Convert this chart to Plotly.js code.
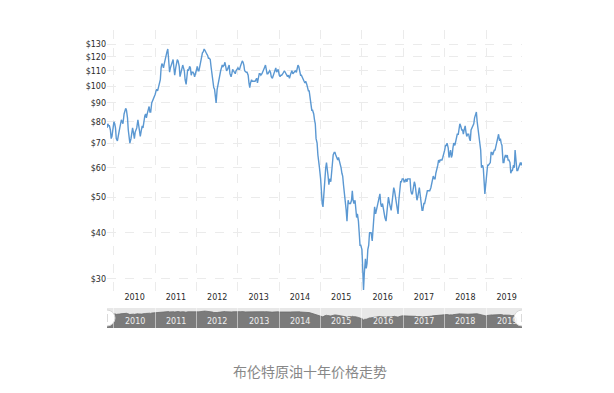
<!DOCTYPE html>
<html><head><meta charset="utf-8">
<script src="https://cdn.plot.ly/plotly-3.0.1.min.js"></script>
<style>html,body{margin:0;padding:0;background:#fff;}#chart{width:614px;height:393px;}</style>
</head><body><div id="chart"></div>
<script>
// Brent crude, roughly weekly readings (4 per month: days 1, 8, 15, 22)
const weekDays = [1, 8, 15, 22];
const years = [2009, 2010, 2011, 2012, 2013, 2014, 2015, 2016, 2017, 2018, 2019];
const labelYears = [2010, 2011, 2012, 2013, 2014, 2015, 2016, 2017, 2018, 2019];
const startMonth = {2009: 11};
const brent2009 = [77,79,78,78, 76,72,73,77];
const brent2010 = [80,79,77,72, 71,73,76,77, 79,81,80,79, 84,85,87,86, 82,76,72,70, 72,75,77,75,
                   72,75,76,77, 81,78,75,73, 76,78,77,80, 83,84,82,84, 86,88,85,85, 90,91,92,94];
const brent2011 = [95,97,98,97, 100,102,104,112, 115,114,112,115, 120,122,124,126, 115,109,112,114, 115,118,112,107,
                   112,117,118,117, 113,106,108,111, 114,112,110,104, 101,106,111,110, 113,112,107,109, 109,108,106,108];
const brent2012 = [112,113,110,110, 114,118,120,123, 124,126,125,123, 122,121,119,119, 118,113,108,106, 99,98,92,90,
                   98,101,104,106, 110,112,114,113, 114,116,112,110, 111,112,114,108, 106,108,111,110, 109,108,110,111];
const brent2013 = [112,111,111,113, 115,117,116,114, 110,109,109,109, 107,102,99,102, 104,103,103,103, 103,104,105,102,
                   107,108,108,107, 108,109,111,112, 114,111,108,108, 109,110,109,106, 105,107,108,111, 112,109,110,111];
const brent2014 = [107,106,107,107, 108,109,110,109, 108,106,106,107, 105,107,109,110, 108,109,110,110, 109,111,114,113,
                   110,107,107,106, 105,103,102,103, 101,98,97,97, 93,89,86,86, 84,81,79,72, 70,65,61,60];
const brent2015 = [56,49,48,47, 54,58,60,62, 60,57,54,56, 55,58,62,65, 66,66,65,64, 63,64,63,62,
                   60,58,57,54, 51,49,46,43, 49,48,48,48, 49,52,49,48, 49,46,44,45, 43,40,37,37];
const brent2016 = [36,32,28,31, 34,32,33,36, 37,40,40,40, 38,42,44,47, 45,46,48,49, 50,51,48,47,
                   48,46,45,44, 43,45,49,50, 48,47,46,48, 51,53,52,50, 47,46,45,49, 54,55,55,56];
const brent2017 = [56,55,55,56, 55,56,56,56, 56,52,51,51, 53,55,54,52, 49,50,52,53, 50,48,46,46,
                   48,48,49,51, 52,52,52,52, 53,54,56,57, 56,56,58,60, 61,63,62,63, 63,63,64,66];
const brent2018 = [67,69,69,70, 68,64,65,67, 64,65,68,70, 69,71,73,74, 74,77,79,78, 76,76,74,76,
                   78,75,73,74, 74,72,71,76, 77,78,79,82, 84,85,80,77, 73,70,67,60, 61,60,55,51];
const brent2019 = [55,59,61,61, 62,62,66,66, 65,66,67,67, 69,71,72,74, 71,72,70,69, 62,62,64,65,
                   64,65,63,63, 62,58,59,59, 61,60,67,63, 59,59,60,61, 62,61,62];
const brentByYear = {2009: brent2009, 2010: brent2010, 2011: brent2011, 2012: brent2012, 2013: brent2013,
  2014: brent2014, 2015: brent2015, 2016: brent2016, 2017: brent2017, 2018: brent2018, 2019: brent2019};

const yTickVals = [30, 40, 50, 60, 70, 80, 90, 100, 110, 120, 130];
const yTickText = yTickVals.map(v => '$' + v);
const caption = '布伦特原油十年价格走势';
const xStart = '2009-11-01', xEnd = '2019-11-15';

const dates = [], prices = [];
years.forEach(y => {
  const arr = brentByYear[y];
  const m0 = startMonth[y] || 1;
  arr.forEach((v, i) => {
    const m = m0 + Math.floor(i / 4);
    const d = weekDays[i % 4];
    dates.push(y + '-' + String(m).padStart(2, '0') + '-' + String(d).padStart(2, '0'));
    prices.push(v);
  });
});

const tickFont = {family: 'DejaVu Sans', size: 8, color: '#2a2a2a'};
const traces = [
  {x: dates, y: prices, type: 'scatter', mode: 'lines', xaxis: 'x', yaxis: 'y',
   line: {color: '#5b98d2', width: 1.4}, hoverinfo: 'skip'},
  {x: dates, y: prices, type: 'scatter', mode: 'lines', xaxis: 'x2', yaxis: 'y2',
   fill: 'tozeroy', fillcolor: '#7b7b7b', line: {color: '#6a6a6a', width: 0.8}, hoverinfo: 'skip'}
];

const handle = (xv) => ([
  {type: 'circle', xref: 'x2', yref: 'y2 domain', xsizemode: 'pixel', ysizemode: 'pixel',
   xanchor: xv, yanchor: 0.5, x0: -8, x1: 8, y0: -8, y1: 8,
   fillcolor: '#ffffff', line: {color: '#d6d6d6', width: 1}, layer: 'above'},
  {type: 'line', xref: 'x2', yref: 'y2 domain', xsizemode: 'pixel', ysizemode: 'pixel',
   xanchor: xv, yanchor: 0.5, x0: 0, x1: 0, y0: -4, y1: 4,
   line: {color: '#b5b5b5', width: 1}, layer: 'above'}
]);

const navLabels = labelYears.map(y => ({
  text: String(y), xref: 'x2', yref: 'y2 domain', x: y + '-07-02', y: 0.3,
  xanchor: 'center', yanchor: 'middle', showarrow: false,
  font: {family: 'DejaVu Sans', size: 8, color: '#f0f0f0'}
}));

const layout = {
  width: 614, height: 393,
  margin: {l: 107, r: 92, t: 30, b: 63},
  paper_bgcolor: '#ffffff', plot_bgcolor: '#ffffff',
  showlegend: false,
  xaxis: {type: 'date', range: [xStart, xEnd], domain: [0, 1], anchor: 'y',
    ticklabelmode: 'period', dtick: 'M12', tick0: '2009-01-01', tickformat: '%Y',
    showgrid: true, gridcolor: '#ebebeb', griddash: 'dash', gridwidth: 1,
    showline: false, zeroline: false, ticks: '', tickfont: tickFont, fixedrange: true},
  yaxis: {type: 'log', range: [Math.log10(27.8), Math.log10(141.9)], domain: [0.13, 1], anchor: 'x',
    tickvals: yTickVals, ticktext: yTickText, showgrid: true, gridcolor: '#ebebeb', griddash: 'dash',
    showline: false, zeroline: false, ticks: '', tickfont: tickFont, fixedrange: true},
  xaxis2: {type: 'date', range: [xStart, xEnd], domain: [0, 1], anchor: 'y2',
    ticklabelmode: 'period', dtick: 'M12', tick0: '2009-01-01', tickformat: '%Y',
    showgrid: false, showline: false, zeroline: false, fixedrange: true, layer: 'above traces',
    ticks: 'inside', ticklen: 20, tickcolor: 'rgba(255,255,255,0.5)', tickwidth: 1,
    showticklabels: false},
  yaxis2: {type: 'log', range: [0.867, 2.32], domain: [0.0067, 0.0733], anchor: 'x2',
    showticklabels: false, showgrid: false, zeroline: false, showline: false, ticks: '', fixedrange: true},
  shapes: [
    {type: 'rect', xref: 'x2 domain', yref: 'y2 domain', x0: 0, x1: 1, y0: 0, y1: 1,
     fillcolor: '#e8e8e8', line: {width: 0}, layer: 'below'},
    ...handle(xStart), ...handle(xEnd)
  ],
  annotations: [
    ...navLabels,
    {text: caption, xref: 'paper', yref: 'paper', x: 0.489, y: -0.138, xanchor: 'center', yanchor: 'middle',
     showarrow: false, font: {family: 'Noto Sans CJK SC', size: 14, color: '#888888'}}
  ]
};

Plotly.newPlot('chart', traces, layout, {displayModeBar: false, staticPlot: true});
</script>
</body></html>
